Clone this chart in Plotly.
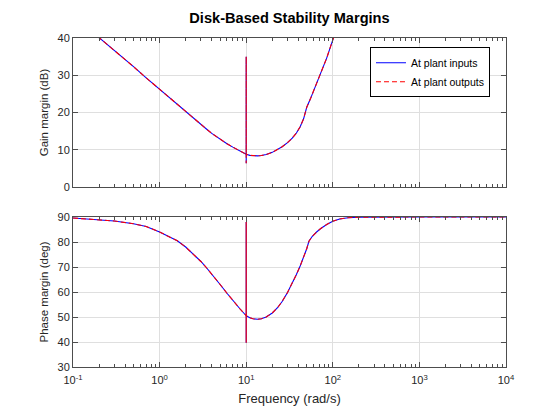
import plotly.graph_objects as go
from plotly.subplots import make_subplots

# Frequencies (rad/s) - 10 repeated for the numerical spike at 10 rad/s
freq_g = [0.1, 0.15, 0.2, 0.3, 0.4, 0.5, 0.7, 1.0, 1.3, 1.6, 2.0, 2.5, 3.0, 3.5,
          4.0, 5.0, 6.0, 7.0, 8.5, 10.0, 10.0, 10.0, 10.0, 11.0, 12.0, 13.5, 15.0,
          17.0, 20.0, 23.0, 26.0, 30.0, 34.0, 38.0, 42.0, 46.0, 50.0, 55.0, 62.0,
          71.5, 85.0, 100.0, 120.0, 200.0, 1000.0, 10000.0]

gain_in = [46.0, 42.6, 40.2, 36.7, 34.2, 32.3, 29.3, 26.2, 23.9, 22.1, 20.2, 18.3, 16.8, 15.5,
           14.4, 12.8, 11.6, 10.7, 9.6, 8.8, 35.0, 6.4, 8.8, 8.5, 8.4, 8.35, 8.45,
           8.7, 9.3, 10.0, 10.8, 11.9, 13.1, 14.5, 16.2, 18.3, 21.4, 23.6, 26.6,
           29.8, 34.6, 39.5, 45.0, 60.0, 80.0, 90.0]
gain_out = list(gain_in)

freq_p = [0.1, 0.2, 0.3, 0.5, 0.7, 1.0, 1.3, 1.6, 2.0, 2.5, 3.0, 3.5, 4.0, 5.0, 6.0,
          7.0, 8.5, 10.0, 10.0, 10.0, 10.0, 11.0, 12.0, 13.5, 15.0, 17.0, 20.0, 23.0,
          26.0, 30.0, 34.0, 38.0, 42.0, 46.0, 50.0, 53.0, 58.0, 65.0, 72.0, 85.0,
          100.0, 120.0, 150.0, 200.0, 400.0, 1000.0, 10000.0]

phase_in = [89.6, 89.0, 88.4, 87.3, 86.2, 84.0, 82.2, 80.5, 78.0, 75.0, 72.2, 69.6, 67.3, 63.0, 59.5,
            56.6, 53.2, 50.5, 88.0, 39.7, 50.5, 49.7, 49.3, 49.1, 49.3, 50.0, 51.6, 53.7,
            56.2, 59.8, 63.5, 67.0, 70.4, 73.8, 77.3, 80.3, 82.3, 84.0, 85.3, 87.0,
            88.3, 89.2, 89.7, 89.9, 90.0, 90.0, 90.0]
phase_out = list(phase_in)

series_names = ["At plant inputs", "At plant outputs"]
xtick_vals = [0.1, 1, 10, 100, 1000, 10000]
xtick_text = ["10<sup>-1</sup>", "10<sup>0</sup>", "10<sup>1</sup>",
              "10<sup>2</sup>", "10<sup>3</sup>", "10<sup>4</sup>"]
minor_vals = [m * 10 ** e for e in range(-1, 4) for m in range(2, 10)]

FONT = "Liberation Sans, Arial, Helvetica, sans-serif"
TXT = "#262626"
AX = "#4d4d4d"
GRID = "#dfdfdf"

fig = make_subplots(rows=2, cols=1, shared_xaxes=False, vertical_spacing=0.0)

fig.add_trace(go.Scatter(x=freq_g, y=gain_in, mode="lines", name=series_names[0],
                         line=dict(color="#0000ff", width=1.1)), row=1, col=1)
fig.add_trace(go.Scatter(x=freq_g, y=gain_out, mode="lines", name=series_names[1],
                         line=dict(color="#ff0000", width=1.1, dash="5px,3px")), row=1, col=1)
fig.add_trace(go.Scatter(x=freq_p, y=phase_in, mode="lines", showlegend=False,
                         line=dict(color="#0000ff", width=1.1)), row=2, col=1)
fig.add_trace(go.Scatter(x=freq_p, y=phase_out, mode="lines", showlegend=False,
                         line=dict(color="#ff0000", width=1.1, dash="5px,3px")), row=2, col=1)

common_x = dict(type="log", range=[-1, 4], tickvals=xtick_vals, ticktext=xtick_text,
                ticks="inside", ticklen=5, tickcolor=AX, showline=True, linecolor=AX,
                linewidth=1, mirror="allticks", showgrid=True, gridcolor=GRID, gridwidth=1,
                minor=dict(tickvals=minor_vals, ticks="inside", ticklen=3, tickcolor=AX,
                           showgrid=False),
                tickfont=dict(family=FONT, size=11, color=TXT), zeroline=False,
                automargin=False)
common_y = dict(ticks="inside", ticklen=5, tickcolor=AX, showline=True, linecolor=AX,
                linewidth=1, mirror="ticks", showgrid=True, gridcolor=GRID, gridwidth=1,
                tickfont=dict(family=FONT, size=11, color=TXT), zeroline=False, dtick=10,
                automargin=False)

fig.update_xaxes(**common_x)
fig.update_xaxes(showticklabels=False, row=1, col=1)
fig.update_xaxes(ticklabelstandoff=3,
                 title=dict(text="Frequency (rad/s)", font=dict(family=FONT, size=13, color=TXT),
                            standoff=8), row=2, col=1)
fig.update_yaxes(**common_y)
fig.update_yaxes(range=[0, 40], tick0=0, title=dict(text="Gain margin (dB)",
                 font=dict(family=FONT, size=11.5, color=TXT), standoff=6), row=1, col=1)
fig.update_yaxes(range=[30, 90], tick0=30, title=dict(text="Phase margin (deg)",
                 font=dict(family=FONT, size=11.5, color=TXT), standoff=6), row=2, col=1)

fig.update_layout(
    width=560, height=420,
    margin=dict(l=73, r=54, t=38, b=53),
    paper_bgcolor="white", plot_bgcolor="white",
    title=dict(text="<b>Disk-Based Stability Margins</b>", x=289.5 / 560, xanchor="center",
               y=1 - 18 / 420, yanchor="middle",
               font=dict(family=FONT, size=14.6, color="#000000")),
    yaxis=dict(domain=[180 / 329, 1]),
    yaxis2=dict(domain=[0, 150 / 329]),
    legend=dict(x=0.963, y=0.972, xanchor="right", yanchor="top",
                bgcolor="white", bordercolor="#000000", borderwidth=1,
                font=dict(family=FONT, size=10.5, color="#000000"),
                tracegroupgap=0, itemwidth=30),
    showlegend=True,
)

fig.write_html("out.html", config={"displayModeBar": False},
               post_script="document.body.style.margin='0px';document.body.style.padding='0px';")
